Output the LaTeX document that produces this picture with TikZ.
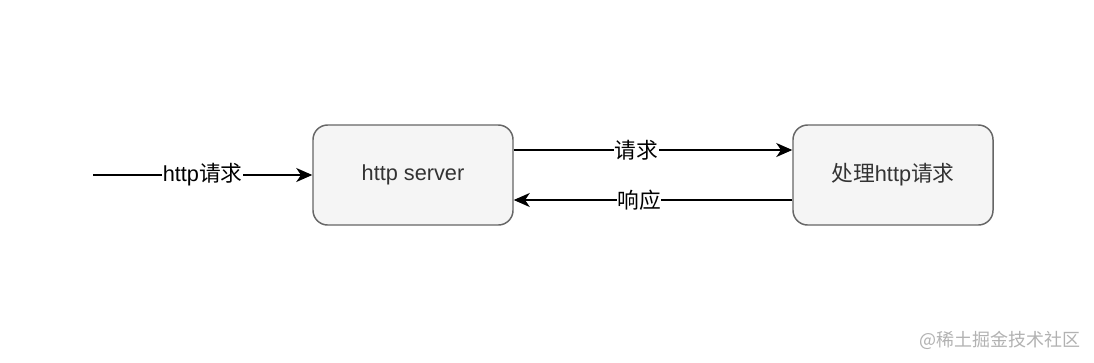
\documentclass[tikz,border=0pt]{standalone}
\usepackage{fontspec}
\setmainfont{Liberation Sans}
\newfontfamily\cjk{Noto Sans CJK SC}
\newcommand{\zh}[1]{{\cjk #1}}
\usetikzlibrary{arrows.meta}
\definecolor{boxfill}{HTML}{F5F5F5}
\definecolor{boxdraw}{HTML}{666666}
\definecolor{txt}{HTML}{333333}
\tikzset{
  procbox/.style={draw=boxdraw, fill=boxfill, line width=1.1pt, rounded corners=11pt,
    minimum width=150pt, minimum height=75pt, inner sep=0pt, text=txt, font=\fontsize{16.3pt}{19pt}\selectfont},
  conn/.style={line width=1pt, -{Stealth[length=12pt,width=10.5pt,inset=3.5pt]}},
  lbl/.style={fill=white, inner xsep=0.5pt, inner ysep=1pt, font=\fontsize{16.3pt}{19pt}\selectfont, text=black}
}
\begin{document}
\begin{tikzpicture}[x=0.75pt,y=-0.75pt]
\useasboundingbox[fill=white] (0,0) rectangle (1094,362);
\node[procbox] (srv) at (413,175) {http server};
\node[procbox] (proc) at (893,175) {\zh{处理}http\zh{请求}};
\coordinate (start) at (93,175);
\draw[conn] (start) -- node[lbl, pos=0.5] {http\zh{请求}} (srv.west);
\draw[conn] ([yshift=18.75pt]srv.east) -- node[lbl, pos=0.44] {\zh{请求}} ([yshift=18.75pt]proc.west);
\draw[conn] ([yshift=-18.75pt]proc.west) -- node[lbl, pos=0.55] {\zh{响应}} ([yshift=-18.75pt]srv.east);
\node[font=\fontsize{13.5pt}{16pt}\selectfont\cjk, text=black!30, anchor=center] (wm) at (1000,340) {@稀土掘金技术社区};
\end{tikzpicture}
\end{document}
